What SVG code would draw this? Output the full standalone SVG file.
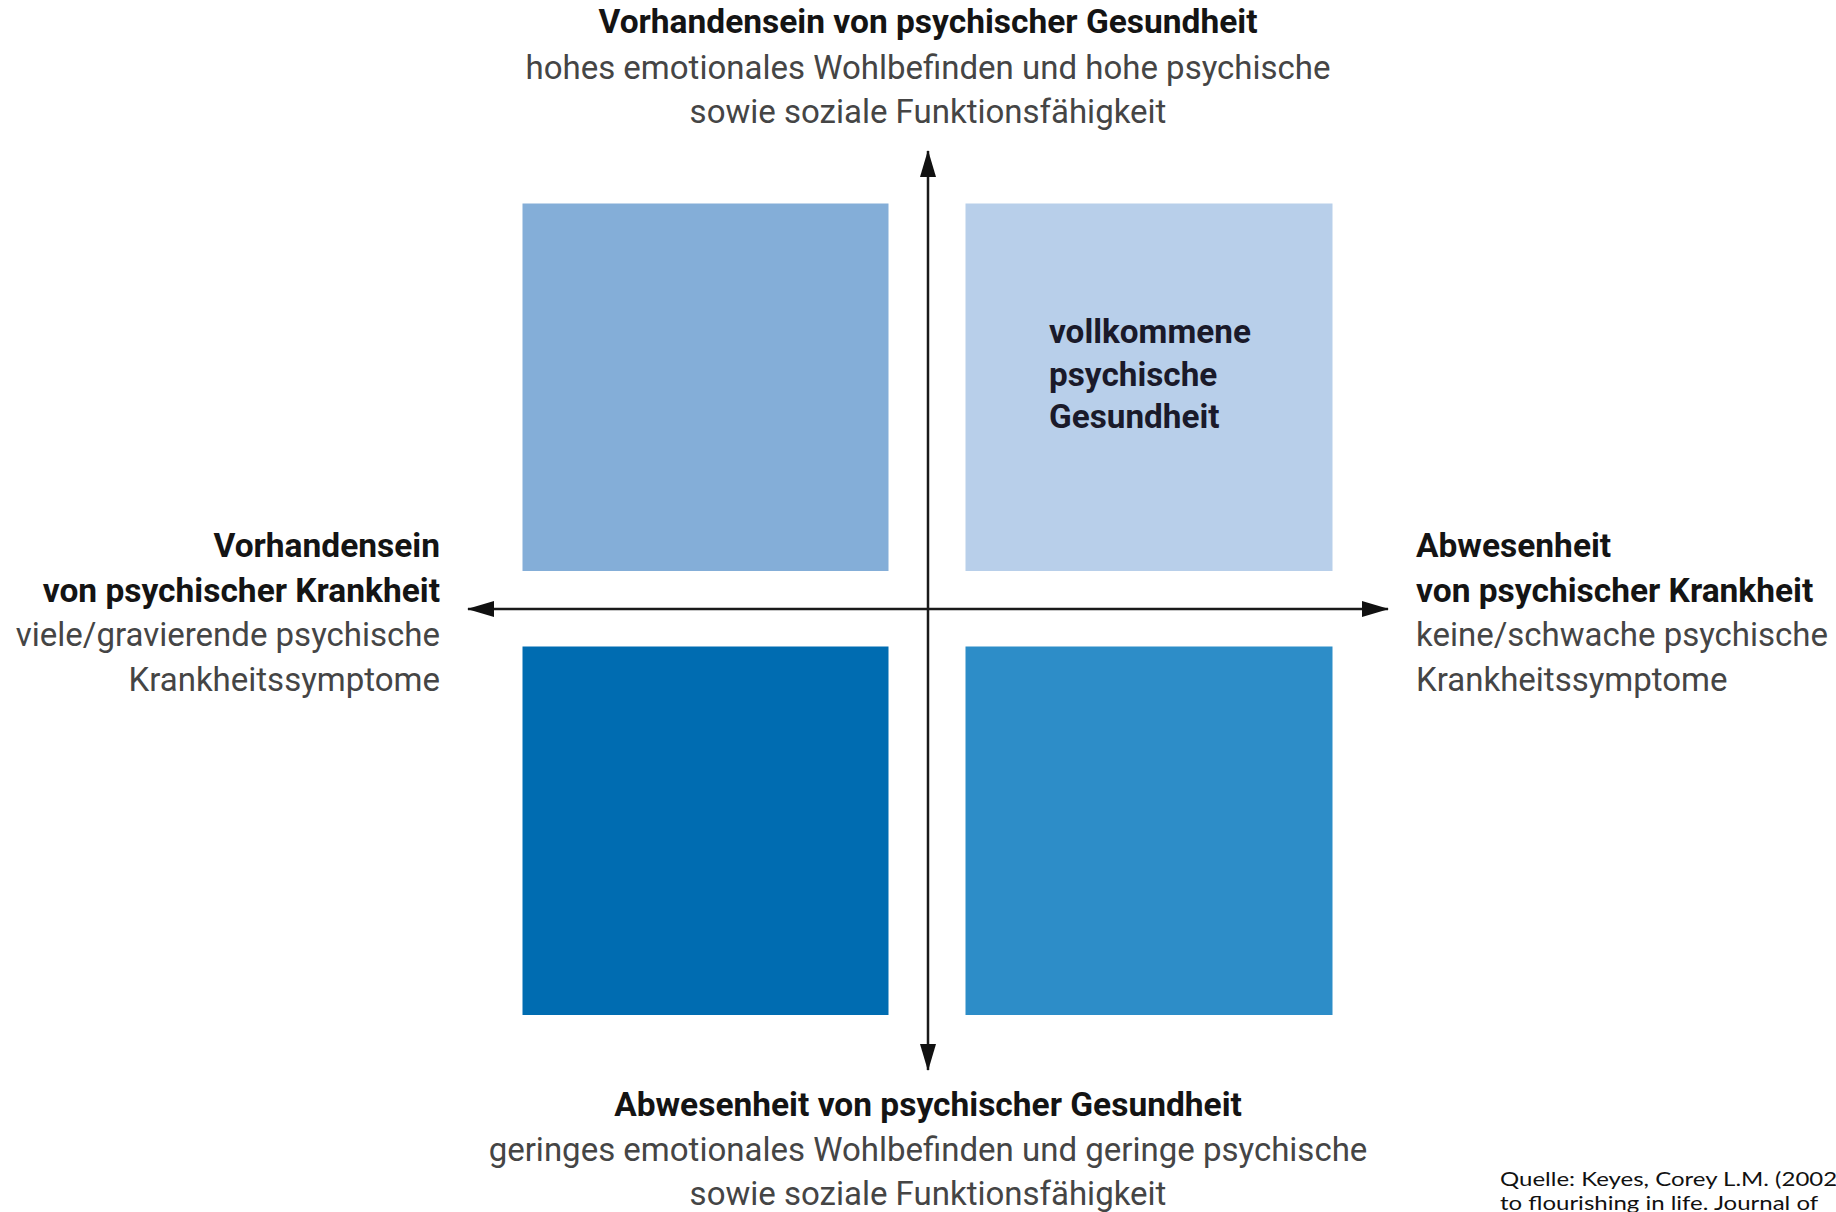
<svg xmlns="http://www.w3.org/2000/svg" width="1836" height="1212" viewBox="0 0 1836 1212">
  <style>
    .head { font-family: Roboto, "Liberation Sans", sans-serif; font-weight: 700; font-size: 33.5px; fill: #141414; }
    .sub { font-family: Roboto, "Liberation Sans", sans-serif; font-weight: 400; font-size: 33px; fill: #454545; }
    .inner { font-family: Roboto, "Liberation Sans", sans-serif; font-weight: 700; font-size: 33.3px; fill: #1a1a2a; }
    .src { font-family: Lato, "Open Sans", "Liberation Sans", sans-serif; font-size: 20px; fill: #111; }
    .axis { stroke: #1a1a1a; stroke-width: 2.5; fill: none; }
  </style>
  <defs>
    <marker id="arrow" viewBox="0 0 27 16" refX="26" refY="8" markerWidth="27" markerHeight="16" markerUnits="userSpaceOnUse" orient="auto-start-reverse">
      <path d="M0,0 L27,8 L0,16 Z" fill="#111"/>
    </marker>
  </defs>

  <rect width="1836" height="1212" fill="#ffffff"/>

  <!-- quadrants -->
  <g id="quadrant-top-left">
    <rect x="522.5" y="203.5" width="366" height="367.5" fill="#84aed8"/>
  </g>
  <g id="quadrant-top-right">
    <rect x="965.5" y="203.5" width="367" height="367.5" fill="#b8cfea"/>
    <text class="inner" x="1049" y="343">vollkommene</text>
    <text class="inner" x="1049" y="386">psychische</text>
    <text class="inner" x="1049" y="428">Gesundheit</text>
  </g>
  <g id="quadrant-bottom-left">
    <rect x="522.5" y="646.5" width="366" height="368.5" fill="#006cb1"/>
  </g>
  <g id="quadrant-bottom-right">
    <rect x="965.5" y="646.5" width="367" height="368.5" fill="#2d8dc8"/>
  </g>

  <!-- axes -->
  <g id="connectors">
    <line class="axis" x1="928" y1="609" x2="928" y2="151" marker-end="url(#arrow)"/>
    <line class="axis" x1="928" y1="609" x2="928" y2="1070" marker-end="url(#arrow)"/>
    <line class="axis" x1="928" y1="609" x2="468" y2="609" marker-end="url(#arrow)"/>
    <line class="axis" x1="928" y1="609" x2="1388" y2="609" marker-end="url(#arrow)"/>
  </g>

  <!-- axis labels -->
  <g id="label-top" text-anchor="middle">
    <text class="head" x="928" y="33">Vorhandensein von psychischer Gesundheit</text>
    <text class="sub" x="928" y="79">hohes emotionales Wohlbefinden und hohe psychische</text>
    <text class="sub" x="928" y="123">sowie soziale Funktionsfähigkeit</text>
  </g>
  <g id="label-bottom" text-anchor="middle">
    <text class="head" x="928" y="1116">Abwesenheit von psychischer Gesundheit</text>
    <text class="sub" x="928" y="1161">geringes emotionales Wohlbefinden und geringe psychische</text>
    <text class="sub" x="928" y="1205">sowie soziale Funktionsfähigkeit</text>
  </g>
  <g id="label-left" text-anchor="end">
    <text class="head" x="440" y="557">Vorhandensein</text>
    <text class="head" x="440" y="602">von psychischer Krankheit</text>
    <text class="sub" x="440" y="646">viele/gravierende psychische</text>
    <text class="sub" x="440" y="691">Krankheitssymptome</text>
  </g>
  <g id="label-right">
    <text class="head" x="1416" y="557">Abwesenheit</text>
    <text class="head" x="1416" y="602">von psychischer Krankheit</text>
    <text class="sub" x="1416" y="646">keine/schwache psychische</text>
    <text class="sub" x="1416" y="691">Krankheitssymptome</text>
  </g>

  <!-- source note, runs past the right edge; widened slightly -->
  <g id="source" transform="translate(1500,0) scale(1.2,1)">
    <text class="src" x="0" y="1186">Quelle: Keyes, Corey L.M. (2002</text>
    <text class="src" x="0" y="1210">to flourishing in life. Journal of</text>
  </g>
</svg>
